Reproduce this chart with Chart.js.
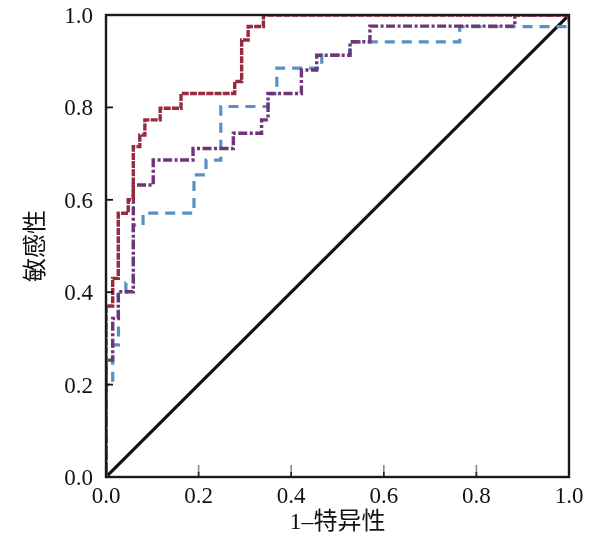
<!DOCTYPE html>
<html><head><meta charset="utf-8">
<script src="https://cdn.jsdelivr.net/npm/chart.js@4.4.0/dist/chart.umd.min.js"></script>
<style>html,body{margin:0;padding:0;background:#fff;overflow:hidden;}</style>
</head><body>
<canvas id="c" width="615" height="547"></canvas>
<script>
// ---- data ----
const tickValues = [0, 0.2, 0.4, 0.6, 0.8, 1.0];
const tickLabels = ['0.0', '0.2', '0.4', '0.6', '0.8', '1.0'];
const xTitle = '1\u2013特异性';
const yTitle = '敏感性';

// ROC operating points (1-specificity, sensitivity)
const redFpr = [0, 0, 0.0145, 0.0265, 0.048, 0.059, 0.073, 0.084, 0.117, 0.162, 0.278, 0.293, 0.307, 0.34, 1];
const redTpr = [0, 0.37, 0.43, 0.571, 0.60, 0.715, 0.74, 0.773, 0.798, 0.83, 0.856, 0.946, 0.975, 1.0, 1];

const purpleFpr = [0, 0, 0.0145, 0.0265, 0.059, 0.102, 0.188, 0.275, 0.336, 0.350, 0.422, 0.455, 0.527, 0.570, 0.883, 1];
const purpleTpr = [0, 0.253, 0.343, 0.401, 0.632, 0.686, 0.711, 0.744, 0.773, 0.830, 0.881, 0.913, 0.942, 0.976, 1.0, 1];

const blueFpr = [0, 0, 0.0145, 0.027, 0.043, 0.059, 0.08, 0.19, 0.216, 0.248, 0.35, 0.369, 0.466, 0.527, 0.764, 1];
const blueTpr = [0, 0.2, 0.286, 0.40, 0.42, 0.545, 0.571, 0.654, 0.686, 0.802, 0.83, 0.885, 0.913, 0.942, 0.975, 1];

const refFpr = [0, 1];
const refTpr = [0, 1];

const pts = (xs, ys) => xs.map((x, i) => ({x: x, y: ys[i]}));

const frameAndTicks = {
  id: 'frameAndTicks',
  afterDatasetsDraw(chart) {
    const {ctx, chartArea: a, scales} = chart;
    ctx.save();
    tickValues.slice(1, -1).forEach(v => {
      const px = scales.x.getPixelForValue(v);
      ctx.strokeStyle = '#8a8a8a';
      ctx.lineWidth = 1.6;
      ctx.beginPath(); ctx.moveTo(px, a.bottom); ctx.lineTo(px, a.bottom - 12); ctx.stroke();
      ctx.strokeStyle = '#222';
      ctx.beginPath(); ctx.moveTo(px, a.bottom); ctx.lineTo(px, a.bottom - 5); ctx.stroke();
      const py = scales.y.getPixelForValue(v);
      ctx.strokeStyle = '#111';
      ctx.lineWidth = 1.8;
      ctx.beginPath(); ctx.moveTo(a.left, py); ctx.lineTo(a.left + 7, py); ctx.stroke();
    });
    ctx.strokeStyle = '#1a1a1a';
    ctx.lineWidth = 2.4;
    ctx.strokeRect(a.left, a.top, a.right - a.left, a.bottom - a.top);
    ctx.restore();
  }
};

const tickFont = {family: '"Liberation Serif", "Times New Roman", serif', size: 23};
const titleFont = {family: '"Liberation Serif", "Noto Sans CJK SC", serif', size: 24};

new Chart(document.getElementById('c'), {
  type: 'line',
  data: {
    datasets: [
      {data: pts(redFpr, redTpr), borderColor: '#952a40', borderWidth: 3.4, borderDash: [7, 1.2], stepped: 'before'},
      {data: pts(purpleFpr, purpleTpr), borderColor: '#6e3577', borderWidth: 3.4, borderDash: [9, 2.5, 3, 2.5], stepped: 'before'},
      {data: pts(blueFpr, blueTpr), borderColor: '#5a8fc3', borderWidth: 3.2, borderDash: [10, 7], stepped: 'before'},
      {data: pts(refFpr, refTpr), borderColor: '#111111', borderWidth: 3.2}
    ]
  },
  options: {
    responsive: false,
    animation: false,
    devicePixelRatio: 1,
    parsing: false,
    elements: {point: {radius: 0}, line: {tension: 0, fill: false}},
    layout: {padding: {top: 15, right: 46, left: 0, bottom: 0}},
    plugins: {legend: {display: false}, tooltip: {enabled: false}},
    scales: {
      x: {
        type: 'linear', min: 0, max: 1,
        afterBuildTicks: s => { s.ticks = tickValues.map(v => ({value: v})); },
        afterFit: s => { s.height = 70; s.paddingLeft = 0; s.paddingRight = 0; },
        grid: {display: false, drawTicks: false},
        border: {display: false},
        ticks: {color: '#111', font: tickFont, padding: 6, maxRotation: 0,
                callback: (v, i) => tickLabels[i]},
        title: {display: true, text: xTitle, color: '#111', font: titleFont, padding: {top: 0, bottom: 10}}
      },
      y: {
        type: 'linear', min: 0, max: 1,
        afterBuildTicks: s => { s.ticks = tickValues.map(v => ({value: v})); },
        afterFit: s => { s.width = 106; s.paddingTop = 0; s.paddingBottom = 0; },
        grid: {display: false, drawTicks: false},
        border: {display: false},
        ticks: {color: '#111', font: tickFont, padding: 13, labelOffset: 2,
                callback: (v, i) => tickLabels[i]},
        title: {display: true, text: yTitle, color: '#111', font: titleFont, padding: {top: 22, bottom: 0}}
      }
    }
  },
  plugins: [frameAndTicks]
});
</script>
</body></html>
